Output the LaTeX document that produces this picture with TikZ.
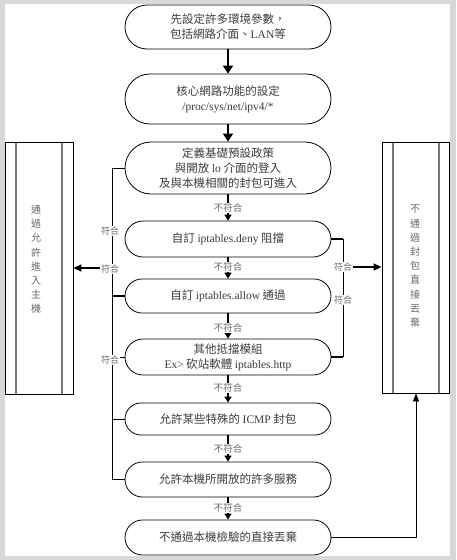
\documentclass[tikz,border=0pt]{standalone}
\usepackage{fontspec}
\setmainfont{Noto Sans CJK TC}
\newfontfamily\lat{Liberation Serif}
\usetikzlibrary{shapes.misc,arrows.meta}
\definecolor{framegray}{RGB}{216,216,216}
\definecolor{labgray}{RGB}{105,105,105}
\definecolor{innergray}{RGB}{120,120,120}
\definecolor{txt}{RGB}{60,60,60}
\begin{document}
\begin{tikzpicture}[x=1pt,y=-1pt,
  proc/.style={rounded rectangle, draw, line width=0.8pt, minimum width=206pt,
    inner sep=0pt, font=\fontsize{11.5}{15}\selectfont, text=txt, align=center},
  lbl/.style={fill=white, inner sep=0.6pt, font=\fontsize{9}{10}\selectfont, text=labgray},
  nlbl/.style={lbl, font=\fontsize{9.5}{10}\selectfont},
  side/.style={draw, line width=0.8pt, inner sep=0pt},
  sidetext/.style={anchor=north, align=center, inner sep=0pt, font=\fontsize{10}{14.2}\selectfont, text=labgray},
  inner/.style={innergray, line width=1.3pt},
  bigarrow/.style={line width=1.6pt, -{Triangle[length=8pt,width=10pt]}},
  smallarrow/.style={line width=1.6pt, -{Triangle[length=6pt,width=7pt]}},
  sidearrow/.style={line width=1.6pt, -{Triangle[length=8pt,width=7pt]}},
  conn/.style={line width=0.8pt},
  thinarrow/.style={line width=0.8pt, -{Triangle[length=8pt,width=6pt]}}
]
% frame
\fill[framegray] (0,0) rectangle (456,560);
\fill[white] (5,4) rectangle (450,556);
\useasboundingbox (0,0) rectangle (456,560);

% main boxes
\node[proc, minimum height=44pt] (b1) at (228,27) {先設定許多環境參數，\\包括網路介面、{\lat LAN}等};
\node[proc, minimum height=50pt] (b2) at (228,99) {核心網路功能的設定\\{\lat /proc/sys/net/ipv4/*}};
\node[proc, minimum height=52pt] (b3) at (228,168) {定義基礎預設政策\\與開放 {\lat lo} 介面的登入\\及與本機相關的封包可進入};
\node[proc, minimum height=36pt] (b4) at (228,239) {自訂 {\lat iptables.deny} 阻擋};
\node[proc, minimum height=34pt] (b5) at (228,296) {自訂 {\lat iptables.allow} 通過};
\node[proc, minimum height=36pt] (b6) at (228,357) {其他抵擋模組\\{\lat Ex>} 砍站軟體 {\lat iptables.http}};
\node[proc, minimum height=32pt] (b7) at (228,419) {允許某些特殊的 {\lat ICMP} 封包};
\node[proc, minimum height=35pt] (b8) at (228,479.5) {允許本機所開放的許多服務};
\node[proc, minimum height=35pt] (b9) at (228,537.5) {不通過本機檢驗的直接丟棄};

% side boxes
\node[side, minimum width=68pt, minimum height=252pt] (L) at (39,268) {};
\draw[inner] (16,142.5) -- (16,393.5);
\draw[inner] (62,142.5) -- (62,393.5);
\node[sidetext] (Lt) at (36,205) {通\\過\\允\\許\\進\\入\\主\\機};

\node[side, minimum width=67pt, minimum height=251pt] (R) at (415.5,267.5) {};
\draw[inner] (393,142.5) -- (393,392.5);
\draw[inner] (439,142.5) -- (439,392.5);
\node[sidetext] (Rt) at (415,205) {不\\通\\過\\封\\包\\直\\接\\丟\\棄};

% main flow
\draw[bigarrow] (b1.south) -- (b2.north);
\draw[bigarrow] (b2.south) -- (b3.north);
\draw[smallarrow] (b3.south) -- (b4.north);
\draw[smallarrow] (b4.south) -- (b5.north);
\draw[smallarrow] (b5.south) -- (b6.north);
\draw[smallarrow] (b6.south) -- (b7.north);
\draw[smallarrow] (b7.south) -- (b8.north);
\draw[smallarrow] (b8.south) -- (b9.north);

% left connectors
\coordinate (lv) at (112,0);
\draw[conn] (b3.west) -- (b3.west -| lv) -- (b8.west -| lv) -- (b8.west);
\draw[line width=1.4pt] (b5.west -| lv) -- (b5.west);
\draw[conn] (b6.west -| lv) -- (b6.west);
\draw[conn] (b7.west -| lv) -- (b7.west);
\coordinate (la) at (112,268);
\draw[sidearrow] (la) -- (la -| L.east);

% right connectors
\coordinate (rv) at (343,0);
\draw[line width=1.1pt] (b4.east) -- (b4.east -| rv);
\draw[conn] (b4.east -| rv) -- (b6.east -| rv);
\draw[line width=1.1pt] (b6.east -| rv) -- (b6.east);
\coordinate (ra) at (343,267);
\draw[sidearrow] (ra) -- (ra -| R.west);

% bottom connector
\coordinate (bc) at (416,0);
\draw[thinarrow] (b9.east) -- (b9.east -| bc) -- (R.south -| bc);

% labels
\node[nlbl] (n1) at (228,208) {不符合};
\node[nlbl] (n2) at (228,267) {不符合};
\node[nlbl] (n3) at (228,328) {不符合};
\node[nlbl] (n4) at (228,388) {不符合};
\node[nlbl] (n5) at (228,449) {不符合};
\node[nlbl] (n6) at (228,508) {不符合};
\node[lbl] (y1) at (110,231) {符合};
\node[lbl] (y2) at (110,269) {符合};
\node[lbl] (y3) at (110,360) {符合};
\node[lbl] (y4) at (343,267) {符合};
\node[lbl] (y5) at (343,300) {符合};
\end{tikzpicture}
\end{document}
